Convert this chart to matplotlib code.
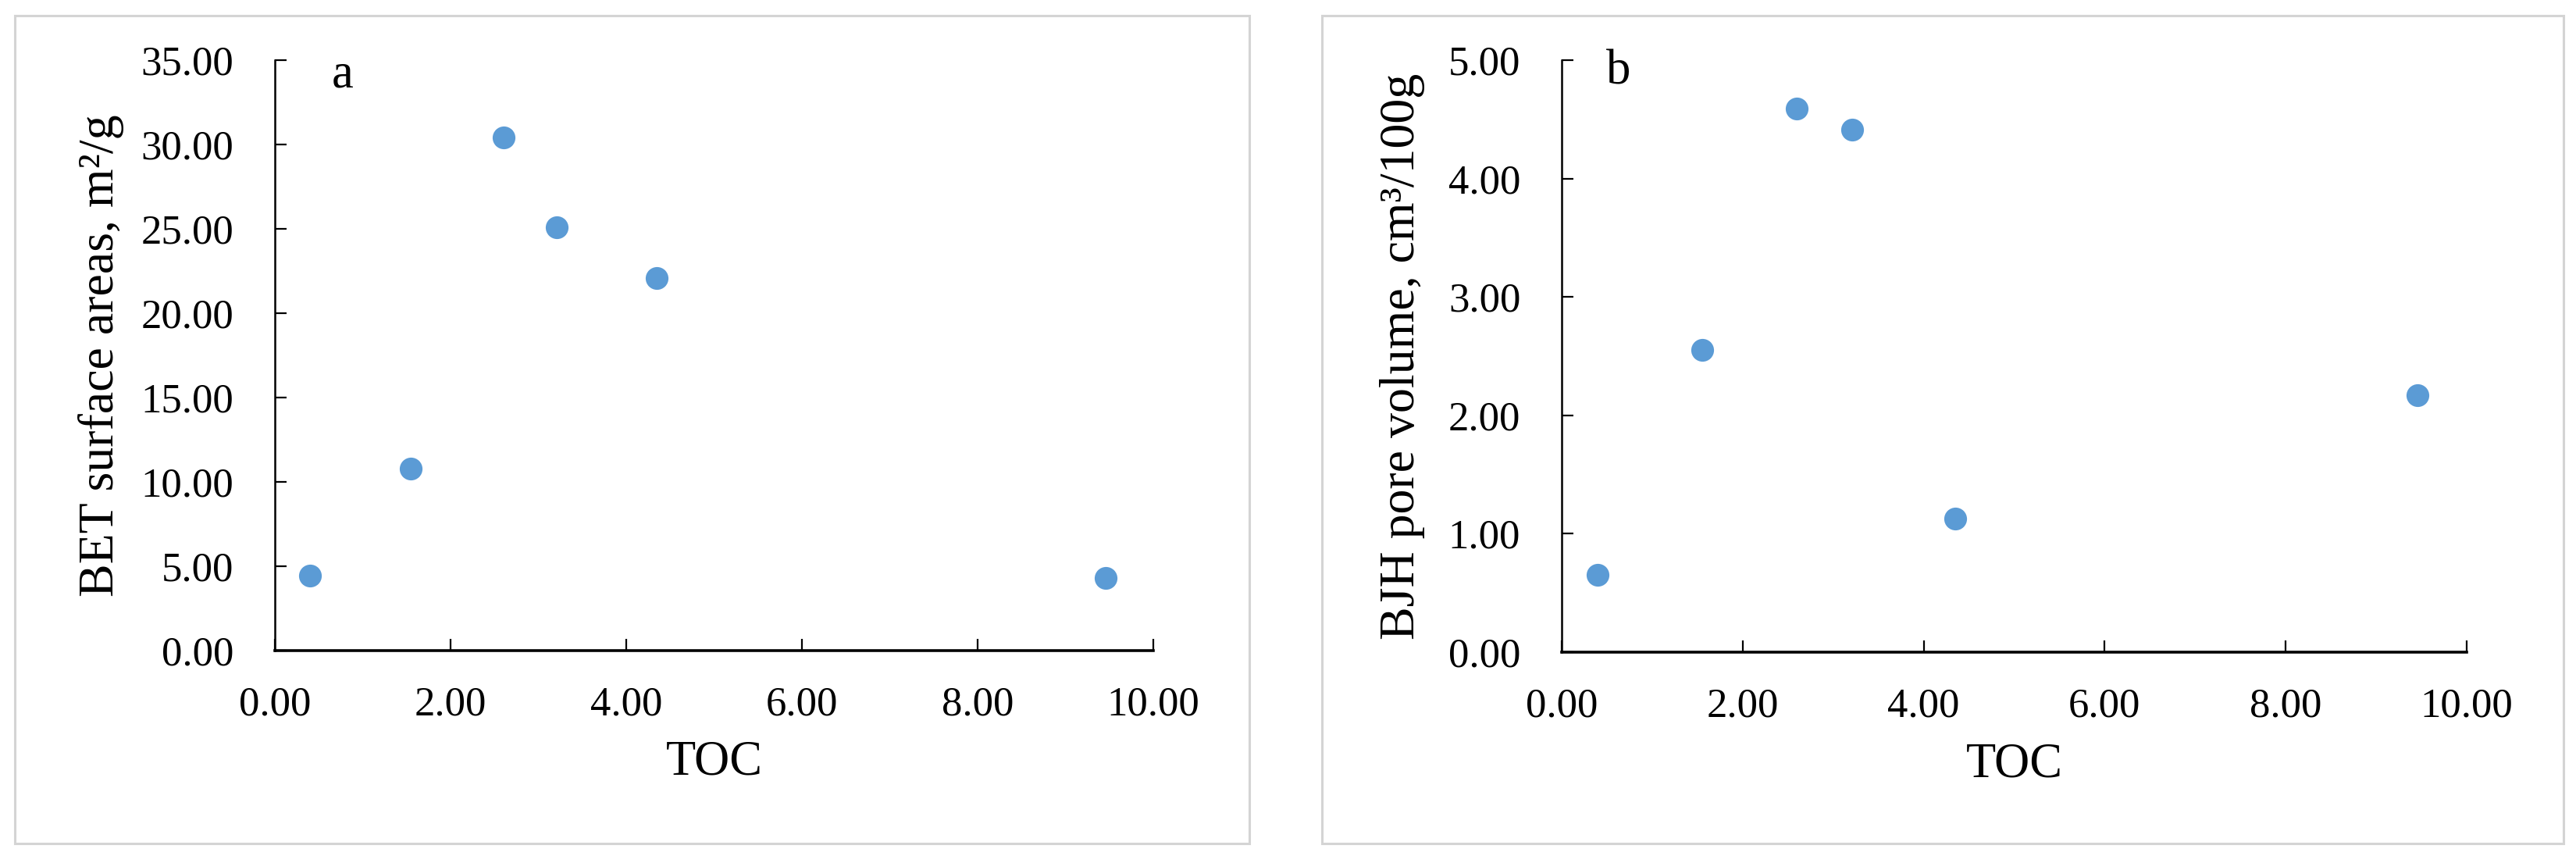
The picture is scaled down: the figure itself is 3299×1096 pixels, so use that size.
import matplotlib.pyplot as plt
from matplotlib.patches import Rectangle
from matplotlib.ticker import FormatStrFormatter

# Data
toc = [0.40, 1.55, 2.60, 3.21, 4.35, 9.46]
bet_area = [4.45, 10.8, 30.4, 25.1, 22.1, 4.3]
bjh_volume = [0.65, 2.55, 4.59, 4.41, 1.13, 2.17]

x_ticks = [0, 2, 4, 6, 8, 10]
bet_ticks = [0, 5, 10, 15, 20, 25, 30, 35]
bjh_ticks = [0, 1, 2, 3, 4, 5]

plt.rcParams['font.family'] = ['Liberation Serif', 'DejaVu Serif']
blue = '#5b9bd5'

W, H = 3299, 1096
fig = plt.figure(figsize=(W / 100, H / 100), dpi=100)


def px_box(x0, y0, x1, y1):
    # pixel box (top-left origin) -> figure fraction rect
    return [x0 / W, 1 - y1 / H, (x1 - x0) / W, (y1 - y0) / H]


# panel frames
for x0, x1 in [(19, 1600), (1693, 3283)]:
    fig.patches.append(Rectangle((x0 / W, 1 - 1080 / H), (x1 - x0) / W, 1060 / H,
                                 transform=fig.transFigure, fill=False,
                                 edgecolor='#d4d4d4', linewidth=2.2))

ax1 = fig.add_axes(px_box(352, 77, 1477, 833))
ax2 = fig.add_axes(px_box(2000, 77, 3159, 835))

panels = [
    (ax1, bet_area, bet_ticks, 'BET surface areas, m²/g', 'a', (-0.198, 0.5), (0.077, 0.974)),
    (ax2, bjh_volume, bjh_ticks, 'BJH pore volume, cm³/100g', 'b', (-0.176, 0.5), (0.063, 0.979)),
]

for ax, yvals, yt, ylab, tag, ylab_pos, tag_pos in panels:
    ax.plot(toc, yvals, 'o', color=blue, markersize=21, markeredgewidth=0, clip_on=False)
    ax.set_xlim(0, 10)
    ax.set_ylim(yt[0], yt[-1])
    ax.set_xticks(x_ticks)
    ax.set_yticks(yt)
    ax.xaxis.set_major_formatter(FormatStrFormatter('%.2f'))
    ax.yaxis.set_major_formatter(FormatStrFormatter('%.2f'))
    ax.spines['top'].set_visible(False)
    ax.spines['right'].set_visible(False)
    ax.spines['bottom'].set_linewidth(2.6)
    ax.spines['left'].set_linewidth(1.8)
    ax.tick_params(axis='both', direction='in', length=11, width=1.6, labelsize=38)
    ax.tick_params(axis='x', pad=33)
    ax.tick_params(axis='y', pad=38)
    ax.set_xlabel('TOC', fontsize=45)
    ax.xaxis.set_label_coords(0.5, -0.19)
    ax.xaxis.label.set_va('center')
    ax.set_ylabel(ylab, fontsize=46)
    ax.yaxis.set_label_coords(*ylab_pos)
    ax.yaxis.label.set_va('center')
    ax.text(tag_pos[0], tag_pos[1], tag, transform=ax.transAxes, fontsize=45,
            ha='center', va='center')

plt.savefig('out.png', dpi=100)
